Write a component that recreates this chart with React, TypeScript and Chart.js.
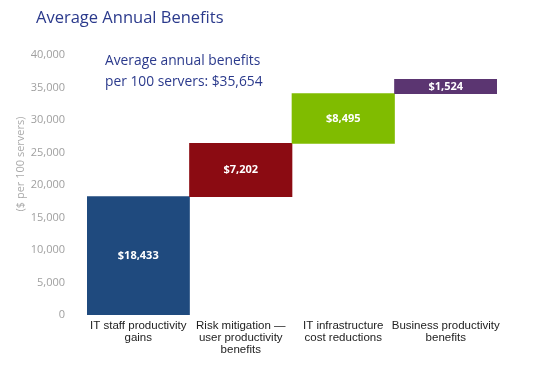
import React, { useEffect, useRef } from "react";
import { Chart, registerables } from "chart.js";

Chart.register(...registerables);

const categories: string[][] = [
  ["IT staff productivity", "gains"],
  ["Risk mitigation \u2014", "user productivity", "benefits"],
  ["IT infrastructure", "cost reductions"],
  ["Business productivity", "benefits"],
];
// bar extents as drawn in the picture (floating waterfall bars)
const barStarts: number[] = [0, 18200, 26400, 34050];
const barEnds: number[] = [18200, 26400, 34050, 36250];
const barColors: string[] = ["#1f4a7e", "#8b0b12", "#80bc00", "#5b3571"];
const valueLabels: string[] = ["$18,433", "$7,202", "$8,495", "$1,524"];
const yTicks: number[] = [0, 5000, 10000, 15000, 20000, 25000, 30000, 35000, 40000];
const chartTitle = "Average Annual Benefits";
const annotationLines: string[] = ["Average annual benefits", "per 100 servers: $35,654"];
const yAxisTitle = "($ per 100 servers)";

export default function App() {
  const ref = useRef<HTMLCanvasElement | null>(null);

  useEffect(() => {
    if (!ref.current) return;
    const ranges = barStarts.map((s, i) => [s, barEnds[i]]);

    const textPlugin = {
      id: "texts",
      afterDraw(chart: any) {
        const ctx = chart.ctx;
        ctx.save();
        ctx.fillStyle = "#2b3a8c";
        ctx.font = "16.5px 'Open Sans'";
        ctx.textAlign = "left";
        ctx.textBaseline = "middle";
        ctx.fillText(chartTitle, 36, 18);
        ctx.font = "13.8px 'Open Sans'";
        ctx.fillText(annotationLines[0], 105, 61);
        ctx.fillText(annotationLines[1], 105, 82);
        ctx.save();
        ctx.translate(21, 164);
        ctx.rotate(-Math.PI / 2);
        ctx.textAlign = "center";
        ctx.fillStyle = "#aaaaaa";
        ctx.font = "11px 'Open Sans'";
        ctx.fillText(yAxisTitle, 0, 0);
        ctx.restore();
        const meta = chart.getDatasetMeta(0);
        ctx.fillStyle = "#ffffff";
        ctx.font = "bold 11px 'Open Sans'";
        ctx.textAlign = "center";
        meta.data.forEach((bar: any, i: number) => {
          const y = (bar.y + bar.base) / 2;
          ctx.fillText(valueLabels[i], bar.x, y);
        });
        ctx.restore();
      },
    };

    const chart = new Chart(ref.current, {
      type: "bar",
      data: {
        labels: categories as any,
        datasets: [
          {
            data: ranges as any,
            backgroundColor: barColors,
            borderWidth: 0,
            barPercentage: 1,
            categoryPercentage: 1,
          },
        ],
      },
      options: {
        responsive: false,
        animation: false,
        layout: { padding: { top: 55, right: 43, left: 0, bottom: 0 } },
        plugins: {
          legend: { display: false },
          tooltip: { enabled: false },
          title: { display: false },
        },
        scales: {
          x: {
            grid: { display: false },
            border: { display: false },
            ticks: {
              color: "#222222",
              font: { family: "'Liberation Sans', Arial", size: 11.5, lineHeight: 1.05 },
              maxRotation: 0,
              autoSkip: false,
              padding: -3,
            },
            afterFit(scale: any) {
              scale.height = 51;
            },
          },
          y: {
            min: yTicks[0],
            max: yTicks[yTicks.length - 1],
            grid: { display: false },
            border: { display: false },
            afterBuildTicks(scale: any) {
              scale.ticks = yTicks.map((v) => ({ value: v }));
            },
            ticks: {
              color: "#a0a0a0",
              padding: 14,
              font: { family: "'Open Sans'", size: 11 },
              callback: (v: any) => Number(v).toLocaleString("en-US"),
            },
            afterFit(scale: any) {
              scale.width = 87;
            },
          },
        },
      },
      plugins: [textPlugin],
    });
    return () => chart.destroy();
  }, []);

  return (
    <div style={{ position: "fixed", left: 0, top: 0, width: 540, height: 366, background: "#fff" }}>
      <canvas ref={ref} width={540} height={366} />
    </div>
  );
}
